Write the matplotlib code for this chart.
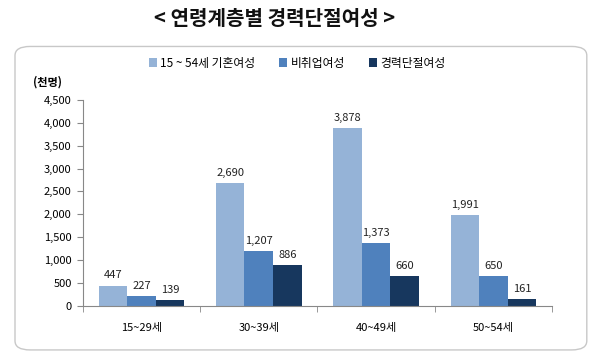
import matplotlib
matplotlib.use('Agg')
import numpy as np
import matplotlib.pyplot as plt
from matplotlib.patches import FancyBboxPatch

plt.rcParams['font.family'] = ['Noto Sans CJK KR', 'DejaVu Sans']

# 데이터
groups = ['15~29세', '30~39세', '40~49세', '50~54세']
married = [447, 2690, 3878, 1991]
unemployed = [227, 1207, 1373, 650]
career_break = [139, 886, 660, 161]
series_names = ['15 ~ 54세 기혼여성', '비취업여성', '경력단절여성']
colors = ['#95b3d7', '#4f81bd', '#17375e']

fig = plt.figure(figsize=(6, 3.63), dpi=100)

# 바깥 둥근 테두리
box = FancyBboxPatch((0.025, 0.036), 0.953, 0.836, boxstyle='round,pad=0,rounding_size=0.025',
                     transform=fig.transFigure, facecolor='white', edgecolor='#c8c8c8', lw=1.0,
                     zorder=-1)
fig.patches.append(box)

fig.text(0.458, 0.95, '< 연령계층별 경력단절여성 >', ha='center', va='center',
         fontsize=14.5, fontweight='bold', color='#111111')

ax = fig.add_axes([0.138, 0.157, 0.782, 0.568])
ax.patch.set_alpha(0)
x = np.arange(len(groups))
w = 0.243
for i, (vals, name) in enumerate(zip([married, unemployed, career_break], series_names)):
    bars = ax.bar(x + (i - 1) * w, vals, w, color=colors[i], label=name, zorder=2)
    for b, v in zip(bars, vals):
        ax.text(b.get_x() + b.get_width() / 2, v + 110, f'{v:,}', ha='center', va='bottom',
                fontsize=8, color='#222222')

ax.set_xlim(-0.5, len(groups) - 0.5)
ax.set_ylim(0, 4500)
ax.set_yticks(range(0, 4501, 500))
ax.set_yticklabels([f'{v:,}' for v in range(0, 4501, 500)], fontsize=8)
ax.set_xticks(x)
ax.set_xticklabels(groups, fontsize=8)
ax.set_xticks(np.arange(-0.5, len(groups), 1), minor=True)
ax.tick_params(axis='x', which='major', length=0, pad=12)
ax.tick_params(axis='x', which='minor', length=4, color='#888888')
ax.tick_params(axis='y', length=4, color='#888888', pad=4)
for s in ['top', 'right']:
    ax.spines[s].set_visible(False)
ax.spines['left'].set_color('#888888')
ax.spines['bottom'].set_color('#888888')

fig.text(0.055, 0.775, '(천명)', fontsize=8, fontweight='bold', va='center')

ax.legend(loc='center', bbox_to_anchor=(0.457, 1.178), ncol=3, frameon=False,
          fontsize=8.5, handlelength=0.7, handleheight=0.7, handletextpad=0.3, columnspacing=2.0)

fig.savefig('out.png', dpi=100)
